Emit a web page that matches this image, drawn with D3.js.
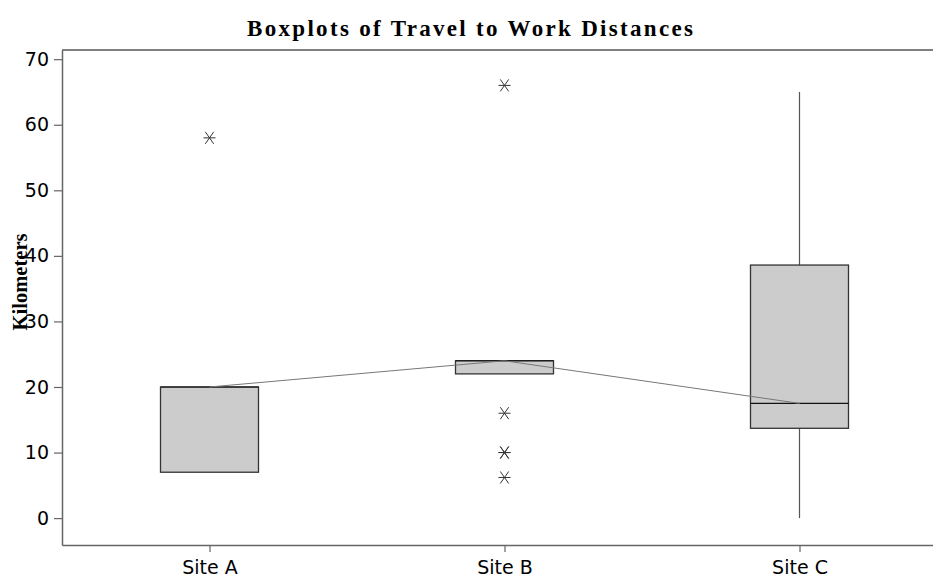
<!DOCTYPE html>
<html>
<head>
<meta charset="utf-8">
<script src="https://cdn.jsdelivr.net/npm/d3@7"></script>
<style>
  html, body { margin: 0; padding: 0; background: #fff; }
  svg { display: block; }
</style>
</head>
<body>
<svg id="chart" width="933" height="583"></svg>
<script>
// ---- data ----
const sites = ["Site A", "Site B", "Site C"];
const q1 = [7, 22, 13.7];
const medians = [20, 24, 17.5];
const q3 = [20, 24, 38.6];
const whiskerLow = [7, 22, 0];
const whiskerHigh = [20, 24, 65];
const outliers = [[58], [66, 16, 10, 10, 6.2], []];
const yTicks = [0, 10, 20, 30, 40, 50, 60, 70];

const W = 933, H = 583;
const margin = { left: 62, top: 50, bottom: 545 };
const svg = d3.select("#chart");

const x = d3.scalePoint().domain(sites).range([margin.left, 947]).padding(0.5);
const y = d3.scaleLinear().domain([-4.1, 71.4]).range([margin.bottom, margin.top]);

// title
svg.append("text")
  .attr("x", 470).attr("y", 36)
  .attr("text-anchor", "middle")
  .attr("font-family", "Liberation Serif, Times New Roman, serif")
  .attr("font-weight", "bold")
  .attr("font-size", 23)
  .attr("textLength", 446)
  .attr("lengthAdjust", "spacing")
  .attr("fill", "#000")
  .text("Boxplots of Travel to Work Distances");

// top frame line
svg.append("line")
  .attr("x1", margin.left).attr("x2", W)
  .attr("y1", margin.top).attr("y2", margin.top)
  .attr("stroke", "#000").attr("stroke-width", 1.2);

// y axis
const yAxis = svg.append("g")
  .attr("transform", `translate(${margin.left},0)`)
  .call(d3.axisLeft(y).tickValues(yTicks).tickSize(8).tickSizeOuter(0).tickPadding(5));
yAxis.select(".domain").attr("stroke", "#666").attr("stroke-width", 1.5);
yAxis.selectAll(".tick line").attr("stroke", "#666").attr("stroke-width", 1.2);
yAxis.selectAll(".tick text")
  .attr("font-family", "DejaVu Sans, Verdana, sans-serif")
  .attr("font-size", 19).attr("fill", "#000");

// x axis
const xAxis = svg.append("g")
  .attr("transform", `translate(0,${margin.bottom})`)
  .call(d3.axisBottom(x).tickSize(7).tickSizeOuter(0).tickPadding(9));
xAxis.select(".domain").attr("stroke", "#666").attr("stroke-width", 1.5);
xAxis.selectAll(".tick line").attr("stroke", "#666").attr("stroke-width", 1.2);
xAxis.selectAll(".tick text")
  .attr("font-family", "DejaVu Sans, Verdana, sans-serif")
  .attr("font-size", 19).attr("fill", "#000");

// y label
svg.append("text")
  .attr("transform", `translate(27,282) rotate(-90)`)
  .attr("text-anchor", "middle")
  .attr("font-family", "Liberation Serif, Times New Roman, serif")
  .attr("font-weight", "bold")
  .attr("font-size", 20)
  .attr("textLength", 97)
  .attr("lengthAdjust", "spacingAndGlyphs")
  .attr("fill", "#000")
  .text("Kilometers");

const boxW = 98;
const g = svg.append("g");

sites.forEach((s, i) => {
  const cx = x(s);
  // whiskers
  g.append("line").attr("x1", cx).attr("x2", cx)
    .attr("y1", y(q3[i])).attr("y2", y(whiskerHigh[i]))
    .attr("stroke", "#555").attr("stroke-width", 1.2);
  g.append("line").attr("x1", cx).attr("x2", cx)
    .attr("y1", y(q1[i])).attr("y2", y(whiskerLow[i]))
    .attr("stroke", "#555").attr("stroke-width", 1.2);
  // box
  g.append("rect")
    .attr("x", cx - boxW / 2).attr("width", boxW)
    .attr("y", y(q3[i])).attr("height", y(q1[i]) - y(q3[i]))
    .attr("fill", "#cccccc").attr("stroke", "#333").attr("stroke-width", 1.3);
  // median
  g.append("line").attr("x1", cx - boxW / 2).attr("x2", cx + boxW / 2)
    .attr("y1", y(medians[i])).attr("y2", y(medians[i]))
    .attr("stroke", "#111").attr("stroke-width", 1.2);
  // outliers (asterisk)
  outliers[i].forEach(v => {
    const py = y(v), r = 6;
    const m = g.append("g").attr("stroke", "#333").attr("stroke-width", 1);
    m.append("line").attr("x1", cx - r).attr("x2", cx + r).attr("y1", py).attr("y2", py);
    m.append("line").attr("x1", cx - r * 0.7).attr("x2", cx + r * 0.7).attr("y1", py - r).attr("y2", py + r);
    m.append("line").attr("x1", cx - r * 0.7).attr("x2", cx + r * 0.7).attr("y1", py + r).attr("y2", py - r);
  });
});

// median connect line
const line = d3.line().x((d, i) => x(sites[i])).y(d => y(d));
g.append("path").datum(medians)
  .attr("d", line)
  .attr("fill", "none").attr("stroke", "#777").attr("stroke-width", 1);
</script>
</body>
</html>
